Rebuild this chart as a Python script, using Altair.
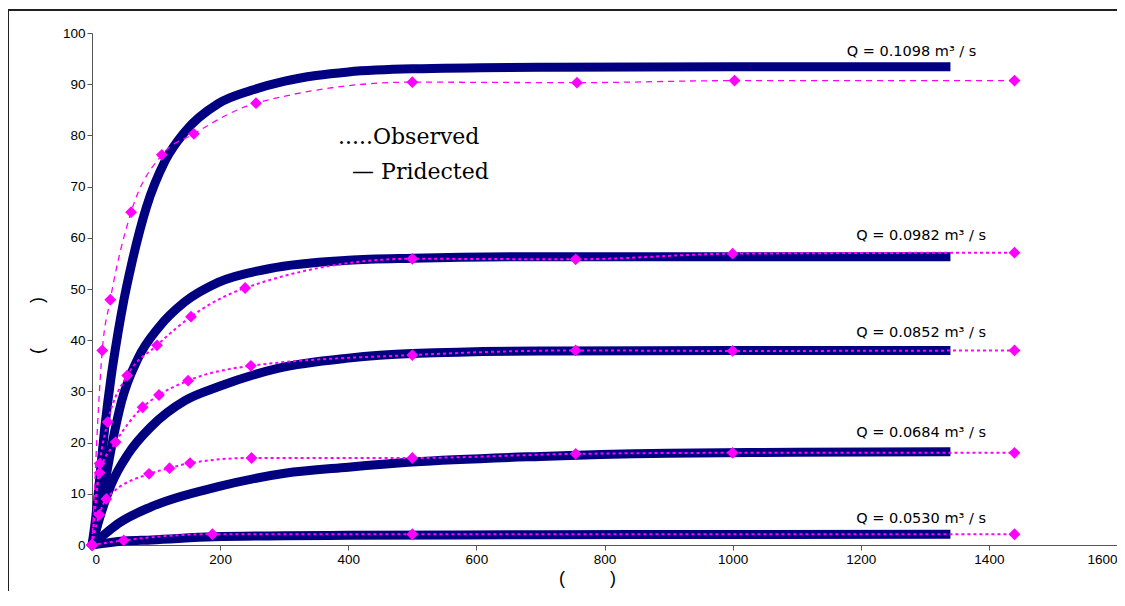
import altair as alt
import pandas as pd

# ---------------- data ----------------
series_names = ["Q = 0.1098 m³ / s", "Q = 0.0982 m³ / s", "Q = 0.0852 m³ / s",
                "Q = 0.0684 m³ / s", "Q = 0.0530 m³ / s"]

# observed (magenta diamonds)
obs_t_1 = [0, 16, 28.6, 61, 109, 159, 256, 500, 757, 1003, 1440]
obs_y_1 = [0, 38.0, 47.9, 65.0, 76.2, 80.3, 86.3, 90.4, 90.3, 90.7, 90.7]
obs_t_2 = [0, 12, 24.5, 55, 101.5, 154.5, 239, 500, 755, 1000, 1440]
obs_y_2 = [0, 15.9, 24.0, 33.1, 39.0, 44.6, 50.2, 55.9, 55.8, 56.9, 57.1]
obs_t_3 = [0, 12, 37, 79, 104.6, 150, 248, 500, 755, 1000, 1440]
obs_y_3 = [0, 14.1, 20.1, 26.9, 29.3, 32.1, 35.0, 37.1, 38.0, 37.9, 38.0]
obs_t_4 = [0, 11.4, 22.4, 89, 121, 153, 249, 500, 755, 1000, 1440]
obs_y_4 = [0, 5.9, 9.0, 13.9, 15.0, 16.0, 17.0, 17.0, 17.8, 18.0, 18.0]
obs_t_5 = [0, 49.5, 188, 500, 1440]
obs_y_5 = [0, 0.9, 2.1, 2.1, 2.1]

# predicted (thick navy curves)
pred_t_1 = [0, 5, 12, 20, 30, 40, 50, 62, 85, 114, 145, 197, 249, 301, 350, 400, 500, 700, 1000, 1340]
pred_y_1 = [0, 4.5, 13.0, 23.0, 33.0, 41.0, 48.0, 55.0, 66.0, 75.0, 80.7, 86.2, 88.8, 90.6, 91.7, 92.4, 93.0, 93.3, 93.4, 93.4]
pred_t_2 = [0, 10, 20, 31, 46, 72, 103.5, 145, 197, 278, 400, 500, 700, 1000, 1340]
pred_y_2 = [0, 5.0, 12.0, 19.5, 28.0, 36.5, 42.4, 47.5, 51.3, 54.0, 55.6, 56.0, 56.3, 56.3, 56.3]
pred_t_3 = [0, 15, 30, 57, 93, 145, 197, 290, 400, 500, 700, 1000, 1340]
pred_y_3 = [0, 6.5, 11.8, 17.9, 23.2, 28.2, 30.9, 34.5, 36.5, 37.4, 37.9, 38.0, 38.0]
pred_t_4 = [0, 15, 41, 93, 197, 301, 400, 500, 700, 900, 1100, 1340]
pred_y_4 = [0, 1.6, 4.2, 7.5, 11.4, 14.0, 15.2, 16.2, 17.3, 17.9, 18.1, 18.2]
pred_t_5 = [0, 50, 93, 190, 301, 400, 700, 1000, 1340]
pred_y_5 = [0, 0.8, 1.0, 1.6, 1.8, 1.9, 2.0, 2.05, 2.1]

# curve labels (text, anchor in data units)
label_x = [1178, 1193, 1193, 1193, 1193]
label_y = [96.3, 60.4, 41.4, 21.9, 5.1]

legend_text = [".....Observed", "—  Pridected"]
legend_x = [384, 406]
legend_y = [79.7, 72.9]

NB = "\u00a0"
paren_title = "(" + NB * 9 + ")"

# ---------------- build tables ----------------
obs_t = [obs_t_1, obs_t_2, obs_t_3, obs_t_4, obs_t_5]
obs_y = [obs_y_1, obs_y_2, obs_y_3, obs_y_4, obs_y_5]
pred_t = [pred_t_1, pred_t_2, pred_t_3, pred_t_4, pred_t_5]
pred_y = [pred_y_1, pred_y_2, pred_y_3, pred_y_4, pred_y_5]

obs_rows, pred_rows = [], []
for i, name in enumerate(series_names):
    style = "dash" if i == 0 else "dot"
    for t, y in zip(obs_t[i], obs_y[i]):
        obs_rows.append({"t": t, "y": y, "series": name, "style": style})
    for t, y in zip(pred_t[i], pred_y[i]):
        pred_rows.append({"t": t, "y": y, "series": name})
df_obs = pd.DataFrame(obs_rows)
df_pred = pd.DataFrame(pred_rows)
df_lab = pd.DataFrame({"t": label_x, "y": label_y, "text": series_names})
df_leg = pd.DataFrame({"t": legend_x, "y": legend_y, "text": legend_text})

X = alt.X("t:Q", scale=alt.Scale(domain=[0, 1600], nice=False, zero=True),
          axis=alt.Axis(values=list(range(0, 1601, 200)), format="d", title=paren_title,
                        titleX=495, titleY=33, titleBaseline="middle"))
Y = alt.Y("y:Q", scale=alt.Scale(domain=[0, 100], nice=False),
          axis=alt.Axis(values=list(range(0, 101, 10)), format="d", title=paren_title,
                        titleX=-55, titleY=292, titleBaseline="middle"))

pred = alt.Chart(df_pred).mark_line(
    color="#000080", strokeWidth=9, strokeCap="butt", interpolate="monotone"
).encode(x=X, y=Y, detail="series:N")

obs_dash = alt.Chart(df_obs).transform_filter(alt.datum.style == "dash").mark_line(
    color="#FF00FF", strokeWidth=1.3, strokeDash=[6, 5], interpolate="monotone"
).encode(x=X, y=Y, detail="series:N")

obs_dot = alt.Chart(df_obs).transform_filter(alt.datum.style == "dot").mark_line(
    color="#FF00FF", strokeWidth=2, strokeDash=[3, 3], interpolate="monotone"
).encode(x=X, y=Y, detail="series:N")

pts = alt.Chart(df_obs).mark_point(
    shape="diamond", filled=True, color="#FF00FF", size=140, opacity=1
).encode(x=X, y=Y)

labels = alt.Chart(df_lab).mark_text(
    align="left", baseline="middle", fontSize=14.5, font="DejaVu Sans", color="black"
).encode(x="t:Q", y="y:Q", text="text:N")

legend = alt.Chart(df_leg).mark_text(
    align="left", baseline="middle", fontSize=22, font="DejaVu Serif", color="black"
).encode(x="t:Q", y="y:Q", text="text:N")

frame = alt.Chart(df_lab).mark_rect(
    fillOpacity=0, stroke="#222222", strokeWidth=1.5, clip=False
).encode(x=alt.value(-84), x2=alt.value(1100), y=alt.value(-23), y2=alt.value(580))

chart = alt.layer(frame, pred, obs_dash, obs_dot, pts, labels, legend).properties(
    width=1025, height=512,
    padding={"left": 84, "top": 25, "right": 0, "bottom": 46},
    autosize=alt.AutoSizeParams(type="none"),
).configure_view(stroke=None).configure_axis(
    grid=False, labelFont="Liberation Sans", labelFontSize=13.5, labelColor="black",
    domainColor="#555555", tickColor="#555555", tickSize=5,
    titleFont="Liberation Sans", titleFontSize=18, titleFontWeight="normal",
    titleColor="black",
)

chart.save("out.html", embed_options={"renderer": "svg", "actions": False})
